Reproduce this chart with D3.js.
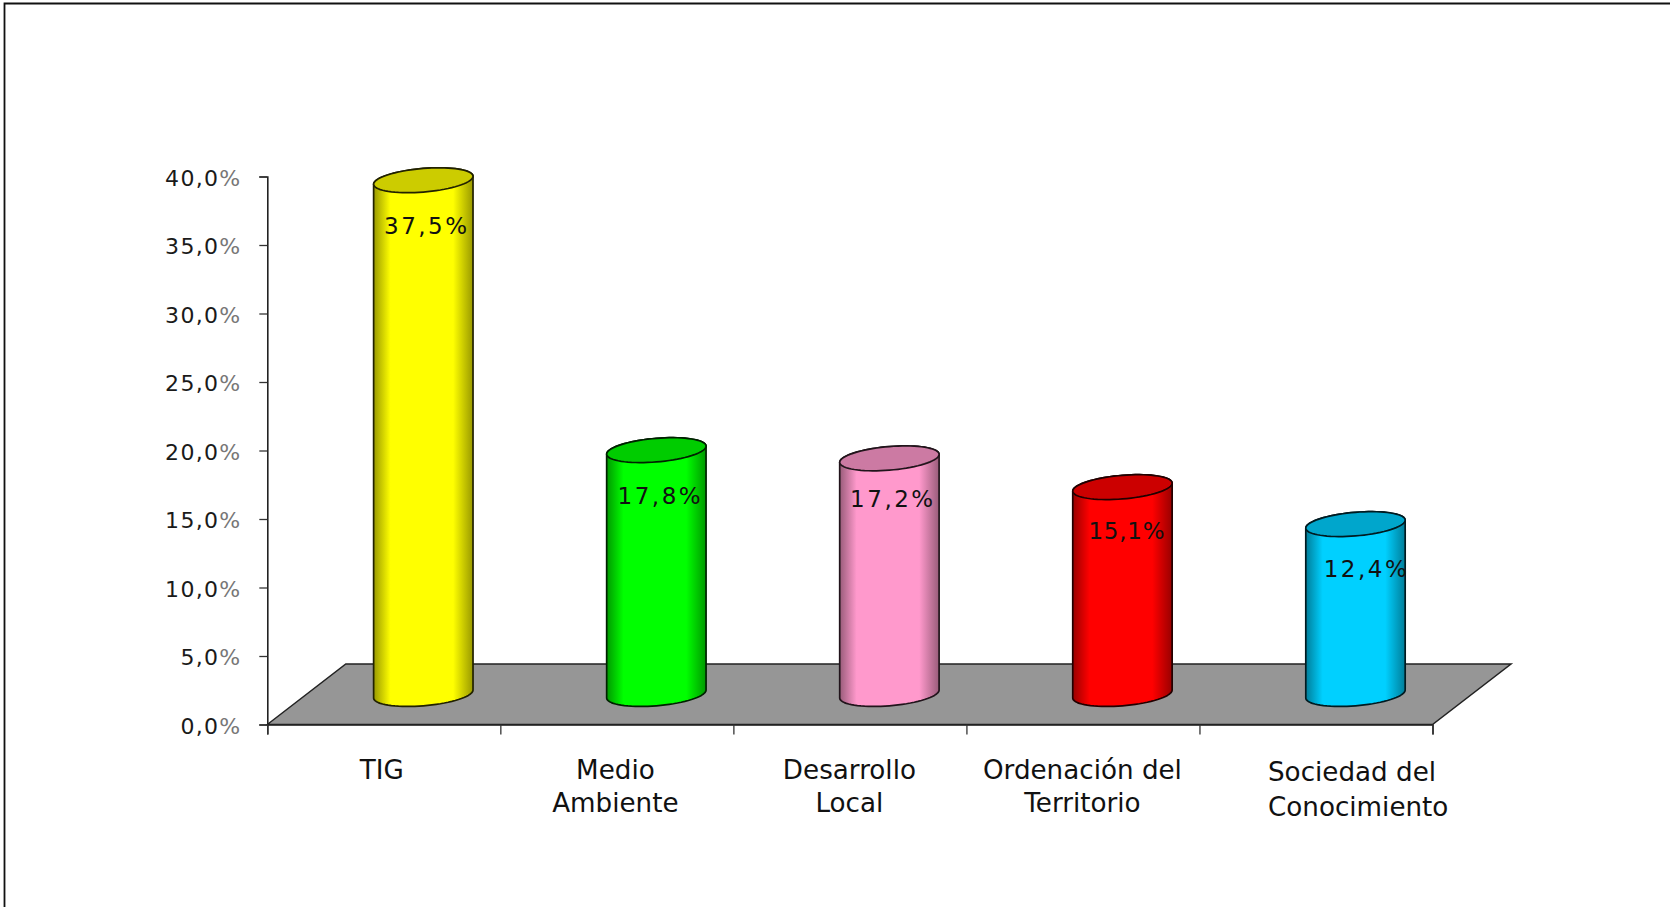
<!DOCTYPE html>
<html><head><meta charset="utf-8">
<script src="https://cdn.jsdelivr.net/npm/d3@7"></script>
<style>html,body{margin:0;padding:0;background:#fff;overflow:hidden}svg{display:block}text{font-family:"DejaVu Sans",sans-serif}</style>
</head><body><div id="chart"></div>
<script>
const categories = [["TIG"],["Medio","Ambiente"],["Desarrollo","Local"],["Ordenación del","Territorio"],["Sociedad del","Conocimiento"]];
const values = [37.5,17.8,17.2,15.1,12.4];
const valueLabels = ["37,5","17,8","17,2","15,1","12,4"];
const bodyColors = ["#ffff00","#00ff00","#ff99cc","#ff0000","#00d0ff"];
const yTicks = [0,5,10,15,20,25,30,35,40];

const W=1670,H=907;
const plotL=267.3,plotR=1432.5,plotT=176.5,plotB=724.5;
const depthX=78.5,depthY=60.5;   // floor depth
const barShiftX=39.5,barShiftY=30.5; // bar centre sits midway in the depth
const rx=49.7,ry=11.8,skew=0.08;

const svg=d3.select("#chart").append("svg").attr("width",W).attr("height",H);
const defs=svg.append("defs");
const y=d3.scaleLinear().domain([0,40]).range([plotB,plotT]);
const x=d3.scaleBand().domain(d3.range(categories.length)).range([plotL,plotR]);
const edge=d3.scaleLinear().domain([0,categories.length]).range([plotL,plotR]);

// frame
svg.append("path").attr("d",`M${W},3.5H4.5V${H}`).attr("fill","none").attr("stroke","#111").attr("stroke-width",1.8);

// floor
svg.append("path")
  .attr("d",d3.line()([[plotL,plotB],[plotL+depthX,plotB-depthY],[plotR+depthX,plotB-depthY],[plotR,plotB]])+"Z")
  .attr("fill","#969696").attr("stroke","#222").attr("stroke-width",1.5);

// axes
const yAxis=d3.axisLeft(y).tickValues(yTicks).tickSize(8).tickFormat("");
const gy=svg.append("g").attr("transform",`translate(${plotL},0)`).call(yAxis);
const xAxis=d3.axisBottom(edge).tickValues(d3.range(categories.length+1)).tickSize(10).tickFormat("");
const gx=svg.append("g").attr("transform",`translate(0,${plotB})`).call(xAxis);
[gy,gx].forEach(g=>{g.selectAll("path").attr("stroke","#222").attr("stroke-width",1.6);
  g.selectAll("line").attr("stroke","#333").attr("stroke-width",1.3);});

// y tick labels
const yl=svg.append("g").selectAll("text").data(yTicks).join("text")
  .attr("x",241.5).attr("y",d=>y(d)+9).attr("text-anchor","end")
  .attr("font-size",22).attr("letter-spacing",1.3).attr("fill","#1a1a1a");
yl.append("tspan").text(d=>d3.format(".1f")(d).replace(".",","));
yl.append("tspan").text("%").attr("fill","#777");

// cylinders
const ts=d3.range(0,361,5).map(d=>d*Math.PI/180);
const ell=(cx,cy,a)=>a.map(t=>[cx+rx*Math.cos(t),cy+ry*Math.sin(t)-skew*rx*Math.cos(t)]);
const line=d3.line();
values.forEach((v,i)=>{
  const cx=x(i)+x.bandwidth()/2+barShiftX;
  const yTop=y(v)-barShiftY, yBase=y(0)-barShiftY;
  const col=d3.rgb(bodyColors[i]);
  const dark=d3.rgb(col.r*0.6,col.g*0.6,col.b*0.6), topCol=d3.rgb(col.r*0.8,col.g*0.8,col.b*0.8);
  const edgeCol=d3.rgb(col.r*0.13,col.g*0.13,col.b*0.13);
  const id="grad"+i;
  const g=defs.append("linearGradient").attr("id",id);
  [[0,dark],[0.17,col],[0.8,col],[1,dark]].forEach(([o,c])=>g.append("stop").attr("offset",o).attr("stop-color",c));
  const lower=d3.range(0,181,5).map(d=>d*Math.PI/180);
  const upper=d3.range(180,361,5).map(d=>d*Math.PI/180);
  const pts=[...ell(cx,yBase,lower),...ell(cx,yTop,upper)];
  svg.append("path").attr("d",line(pts)+"Z").attr("fill",`url(#${id})`)
    .attr("stroke",edgeCol).attr("stroke-width",1.7).attr("stroke-linejoin","round");
  svg.append("path").attr("d",line(ell(cx,yTop,ts))+"Z").attr("fill",topCol)
    .attr("stroke",edgeCol).attr("stroke-width",1.7);
});

// value labels (hand-placed in the original)
const labelDx=[3.5,4,3.5,4.5,11], labelDy=[53.5,53.5,49,51.5,53], labelSp=[2.5,2.5,2.5,0.8,2.5];
svg.append("g").selectAll("text").data(values).join("text")
  .attr("x",(d,i)=>x(i)+x.bandwidth()/2+barShiftX+labelDx[i])
  .attr("y",(d,i)=>y(d)-barShiftY+labelDy[i])
  .attr("text-anchor","middle").attr("font-size",23).attr("fill","#111")
  .attr("letter-spacing",(d,i)=>labelSp[i])
  .text((d,i)=>valueLabels[i]+"%");

// category labels
const catDx=[-2,-1.5,-0.5,-0.5,null];
const catG=svg.append("g").selectAll("text").data(categories).join("text")
  .attr("font-size",26.2).attr("fill","#111")
  .attr("text-anchor",(d,i)=>catDx[i]===null?"start":"middle")
  .attr("transform",(d,i)=>`translate(${catDx[i]===null?1268:x(i)+x.bandwidth()/2+catDx[i]},${i===4?781:779})`);
catG.selectAll("tspan").data((d,i)=>d.map(s=>({s,i}))).join("tspan")
  .attr("x",0).attr("dy",(d,j)=>j===0?0:(d.i===4?34.5:32.5)).text(d=>d.s);
</script></body></html>
